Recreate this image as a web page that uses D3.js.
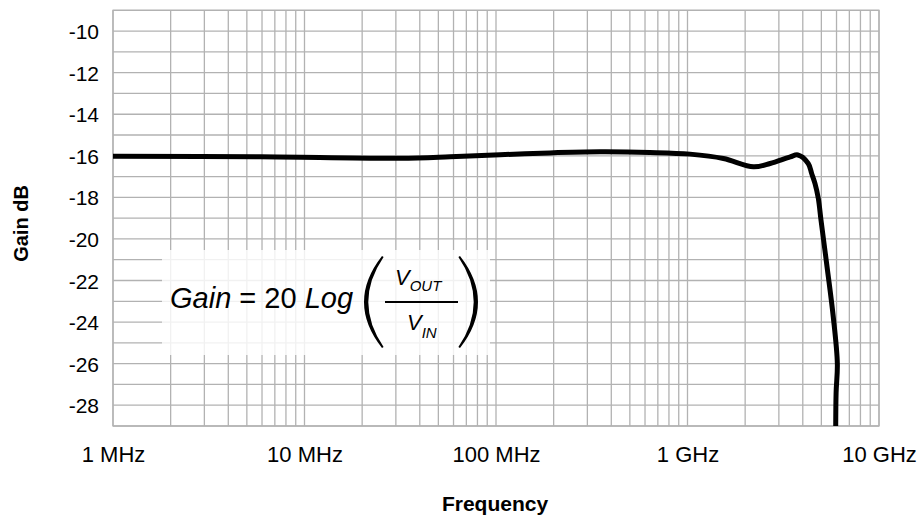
<!DOCTYPE html>
<html>
<head>
<meta charset="utf-8">
<script src="https://cdn.jsdelivr.net/npm/d3@7"></script>
<style>
  body { margin: 0; background: #fff; }
  text { font-family: "Liberation Sans", Arial, Helvetica, sans-serif; fill: #000; }
</style>
</head>
<body>
<div id="chart"></div>
<script>
// values
var freqHz = [1e6, 5.9e6, 3.15e7, 5.75e7, 1.05e8, 1.91e8, 3.49e8, 6.37e8, 1.03e9, 1.54e9,
  2.21e9, 2.70e9, 3.44e9, 3.77e9, 4.27e9, 4.45e9, 4.63e9, 4.82e9, 4.98e9, 5.33e9,
  5.77e9, 6.06e9, 5.97e9, 5.94e9];
var gainDb = [-16.02, -16.05, -16.12, -16.05, -15.95, -15.86, -15.81, -15.84, -15.92, -16.13,
  -16.53, -16.37, -16.05, -15.96, -16.37, -16.85, -17.33, -18.05, -19.1, -21.2,
  -23.75, -26.0, -27.4, -29.4];
var yTicks = [-10, -12, -14, -16, -18, -20, -22, -24, -26, -28];
var xTicks = [1e6, 1e7, 1e8, 1e9, 1e10];
var xTickLabels = ["1 MHz", "10 MHz", "100 MHz", "1 GHz", "10 GHz"];

var W = 918, H = 521;
var plot = { left: 113, right: 879, top: 10.3, bottom: 426 };
var gridColor = "#b2b2b2";

var svg = d3.select("#chart").append("svg")
  .attr("width", W).attr("height", H)
  .style("display", "block");

var x = d3.scaleLog().domain([1e6, 1e10]).range([plot.left, plot.right]);
var y = d3.scaleLinear().domain([-29, -9]).range([plot.bottom, plot.top]);

// grid
var grid = svg.append("g").attr("class", "grid");
grid.selectAll("line.v").data(x.ticks()).enter().append("line")
  .attr("class", "v")
  .attr("x1", function (d) { return x(d); }).attr("x2", function (d) { return x(d); })
  .attr("y1", plot.top).attr("y2", plot.bottom)
  .attr("stroke", gridColor).attr("stroke-width", 1.3);
grid.selectAll("line.h").data(y.ticks(20)).enter().append("line")
  .attr("class", "h")
  .attr("x1", plot.left).attr("x2", plot.right)
  .attr("y1", function (d) { return y(d); }).attr("y2", function (d) { return y(d); })
  .attr("stroke", gridColor).attr("stroke-width", 1.3);
grid.append("rect")
  .attr("x", plot.left).attr("y", plot.top)
  .attr("width", plot.right - plot.left).attr("height", plot.bottom - plot.top)
  .attr("fill", "none").attr("stroke", gridColor).attr("stroke-width", 1.3);

// formula box (white, lets grid show faintly)
svg.append("rect")
  .attr("x", 162).attr("y", 250).attr("width", 328).attr("height", 105)
  .attr("fill", "#fff").attr("fill-opacity", 0.82);

// axes
var axY = svg.append("g")
  .attr("transform", "translate(" + plot.left + ",0)")
  .call(d3.axisLeft(y).tickValues(yTicks).tickSize(0).tickPadding(14)
    .tickFormat(function (d) { return String(d); }));
axY.select(".domain").remove();
axY.selectAll("text").style("font-size", "21px").attr("dy", "0.36em");

var axX = svg.append("g")
  .attr("transform", "translate(0," + plot.bottom + ")")
  .call(d3.axisBottom(x).tickValues(xTicks).tickSize(0).tickPadding(20)
    .tickFormat(function (d, i) { return xTickLabels[i]; }));
axX.select(".domain").remove();
axX.selectAll("text").style("font-size", "22px").attr("dy", "0.71em");

svg.selectAll(".tick text").style("font-family", "'Liberation Sans', Arial, sans-serif").attr("fill", "#000");

// axis titles
svg.append("text")
  .attr("x", 495).attr("y", 511)
  .attr("text-anchor", "middle")
  .style("font-size", "21px").style("font-weight", "bold")
  .text("Frequency");
svg.append("text")
  .attr("transform", "translate(28,223.5) rotate(-90)")
  .attr("text-anchor", "middle")
  .style("font-size", "20px").style("font-weight", "bold")
  .text("Gain dB");

// curve
var pts = freqHz.map(function (f, i) { return [f, gainDb[i]]; });
svg.append("clipPath").attr("id", "plotclip").append("rect")
  .attr("x", plot.left).attr("y", plot.top)
  .attr("width", plot.right - plot.left).attr("height", plot.bottom - plot.top);
svg.append("path")
  .datum(pts)
  .attr("clip-path", "url(#plotclip)")
  .attr("fill", "none")
  .attr("stroke", "#000")
  .attr("stroke-width", 5)
  .attr("stroke-linejoin", "round")
  .attr("d", d3.line()
    .x(function (d) { return x(d[0]); })
    .y(function (d) { return y(d[1]); })
    .curve(d3.curveCatmullRom.alpha(0.5)));

// formula
var f = svg.append("g").attr("class", "formula");
var t = f.append("text").attr("x", 170).attr("y", 308).style("font-size", "29px");
t.append("tspan").style("font-style", "italic").text("Gain");
t.append("tspan").text(" = 20 ");
t.append("tspan").style("font-style", "italic").text("Log");

// big brackets drawn as tapered crescents
function bracket(xEnd, xMid, yTop, yBot, dir) {
  var ym = (yTop + yBot) / 2;
  var co = 2 * xMid - xEnd;            // outer control point
  var ci = co + dir * 7;               // inner control point
  var p = d3.path();
  p.moveTo(xEnd, yTop);
  p.quadraticCurveTo(co, ym, xEnd, yBot);
  p.lineTo(xEnd + dir * 1.6, yBot - 1);
  p.quadraticCurveTo(ci, ym, xEnd + dir * 1.6, yTop + 1);
  p.closePath();
  return p.toString();
}
f.append("path").attr("d", bracket(382, 364, 256, 348, 1)).attr("fill", "#000");
f.append("path").attr("d", bracket(460, 478, 256, 348, -1)).attr("fill", "#000");

var num = f.append("text").attr("x", 395).attr("y", 285).style("font-style", "italic").style("font-size", "22px");
num.append("tspan").text("V");
num.append("tspan").attr("dy", 6).style("font-size", "15px").text("OUT");
f.append("line").attr("x1", 385).attr("x2", 458).attr("y1", 302).attr("y2", 302)
  .attr("stroke", "#000").attr("stroke-width", 2);
var den = f.append("text").attr("x", 407).attr("y", 330).style("font-style", "italic").style("font-size", "22px");
den.append("tspan").text("V");
den.append("tspan").attr("dy", 8).style("font-size", "15px").text("IN");
</script>
</body>
</html>
